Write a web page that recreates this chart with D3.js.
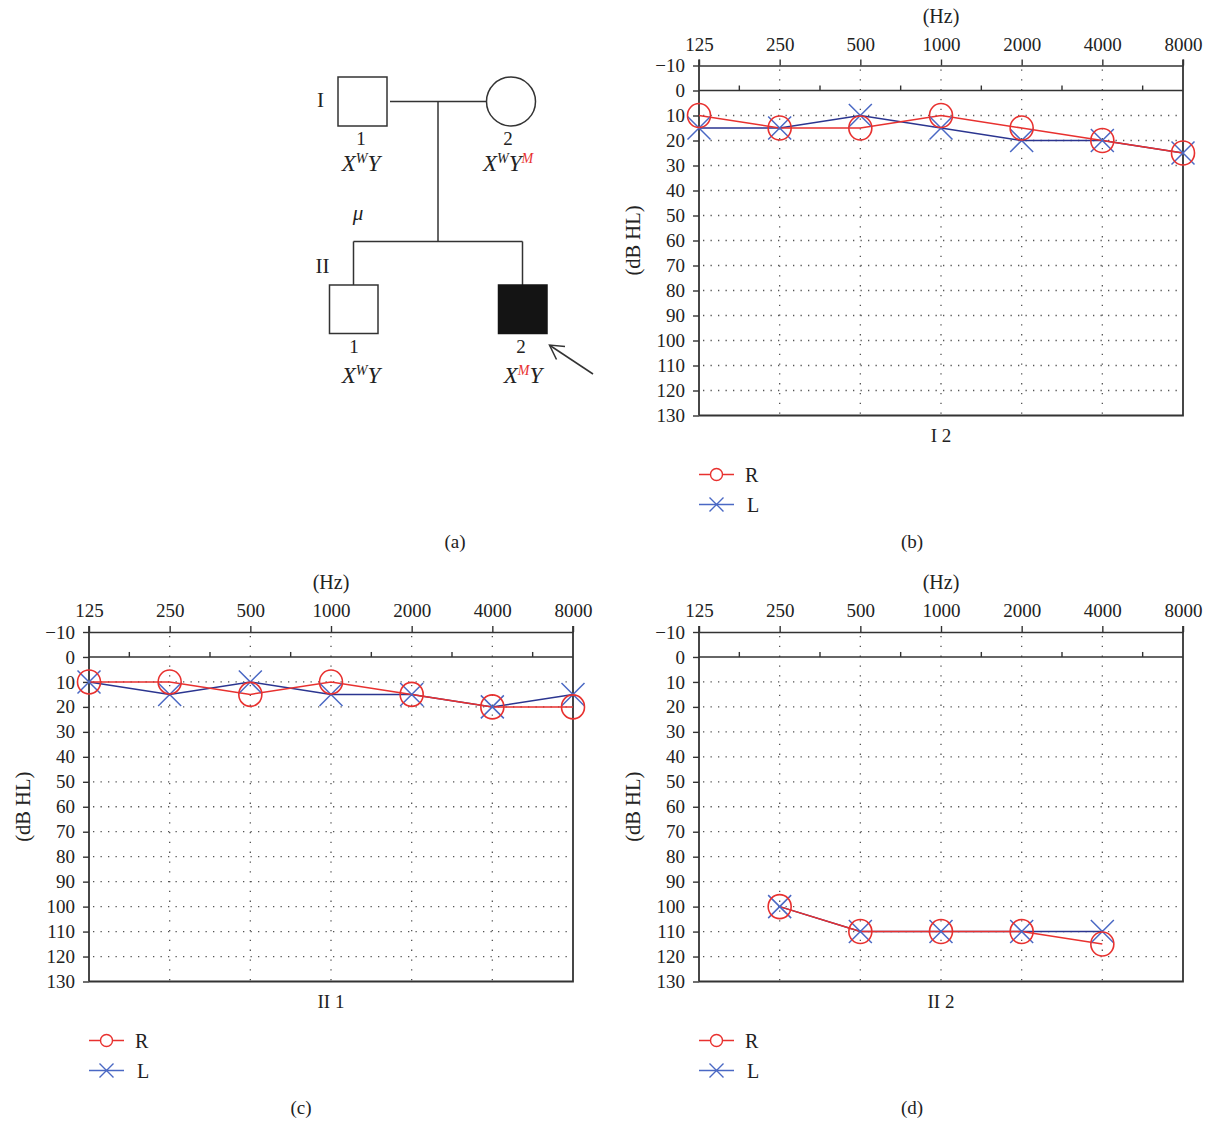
<!DOCTYPE html>
<html>
<head>
<meta charset="utf-8">
<script src="https://cdn.jsdelivr.net/npm/d3@7"></script>
<style>
  html, body { margin: 0; padding: 0; background: #fff; }
  svg { display: block; font-family: "Liberation Serif", "DejaVu Serif", serif; }
</style>
</head>
<body>
<svg id="fig" width="1212" height="1121"></svg>
<script>
// ---------------- data ----------------
const FREQS = [125, 250, 500, 1000, 2000, 4000, 8000];
const FREQ_LABELS = ["125", "250", "500", "1000", "2000", "4000", "8000"];
const DB_TICKS = [-10, 0, 10, 20, 30, 40, 50, 60, 70, 80, 90, 100, 110, 120, 130];

// Panel (b): I 2
const I2_FREQS = [125, 250, 500, 1000, 2000, 4000, 8000];
const I2_R = [10, 15, 15, 10, 15, 20, 25];
const I2_L = [15, 15, 10, 15, 20, 20, 25];
// Panel (c): II 1
const II1_FREQS = [125, 250, 500, 1000, 2000, 4000, 8000];
const II1_R = [10, 10, 15, 10, 15, 20, 20];
const II1_L = [10, 15, 10, 15, 15, 20, 15];
// Panel (d): II 2
const II2_FREQS = [250, 500, 1000, 2000, 4000];
const II2_R = [100, 110, 110, 110, 115];
const II2_L = [100, 110, 110, 110, 110];

const LEGEND = ["R", "L"];
const CAPTIONS = ["(a)", "(b)", "(c)", "(d)"];

// ---------------- styles ----------------
const RED = "#e8312f";
const NAVY = "#2b3590";
const XBLUE = "#4a68c4";
const AXIS = "#333";
const TEXT = "#222";
const FS = 19;

const svg = d3.select("#fig");

function drawX(sel, cx, cy, h, color, w) {
  sel.append("path")
    .attr("d", `M${cx - h},${cy - h}L${cx + h},${cy + h}M${cx - h},${cy + h}L${cx + h},${cy - h}`)
    .attr("stroke", color).attr("stroke-width", w).attr("fill", "none");
}

function audiogram(o) {
  const x = d3.scaleLog().base(2).domain([125, 8000]).range([o.x0, o.x1]);
  const y = d3.scaleLinear().domain([-10, 130]).range([o.yTop, o.yBot]);
  const g = svg.append("g");

  // horizontal dotted grid
  g.selectAll(null).data(DB_TICKS.filter(d => d > 0 && d < 130)).join("line")
    .attr("x1", o.x0 + 4).attr("x2", o.x1).attr("y1", d => y(d)).attr("y2", d => y(d))
    .attr("stroke", "#555").attr("stroke-width", 1.3).attr("stroke-dasharray", "1.3,6.2");
  // vertical dotted grid
  g.selectAll(null).data(FREQS.slice(1, -1)).join("line")
    .attr("x1", d => x(d)).attr("x2", d => x(d)).attr("y1", y(-10) + 4).attr("y2", y(130))
    .attr("stroke", "#555").attr("stroke-width", 1.3).attr("stroke-dasharray", "1.3,8.5");

  // 0 dB line
  g.append("line").attr("x1", o.x0).attr("x2", o.x1).attr("y1", y(0)).attr("y2", y(0))
    .attr("stroke", AXIS).attr("stroke-width", 1.6);
  // half-octave ticks on 0 line
  const mids = d3.pairs(FREQS).map(([a, b]) => Math.sqrt(a * b));
  g.selectAll(null).data(mids).join("line")
    .attr("x1", d => x(d)).attr("x2", d => x(d)).attr("y1", y(0)).attr("y2", y(0) - 5)
    .attr("stroke", AXIS).attr("stroke-width", 1.4);

  // top axis (frequency)
  const ax = d3.axisTop(x).tickValues(FREQS).tickFormat((d, i) => FREQ_LABELS[i])
    .tickSize(6).tickPadding(9).tickSizeOuter(0);
  const gx = g.append("g").attr("transform", `translate(0,${y(-10)})`).call(ax);
  gx.select(".domain").attr("stroke", AXIS).attr("stroke-width", 1.6);
  gx.selectAll(".tick line").attr("stroke", AXIS).attr("stroke-width", 1.4);
  gx.selectAll(".tick text").attr("font-size", FS).attr("fill", TEXT)
    .attr("font-family", "Liberation Serif, serif");

  // left axis (dB)
  const ay = d3.axisLeft(y).tickValues(DB_TICKS)
    .tickFormat(d => d < 0 ? "\u2212" + Math.abs(d) : String(d))
    .tickSize(6).tickPadding(8).tickSizeOuter(0);
  const gy = g.append("g").attr("transform", `translate(${o.x0},0)`).call(ay);
  gy.select(".domain").attr("stroke", AXIS).attr("stroke-width", 1.8)
    .attr("d", `M0,${y(-10) - 6}V${y(130)}`);
  gy.selectAll(".tick line").attr("stroke", AXIS).attr("stroke-width", 1.4);
  gy.selectAll(".tick text").attr("font-size", FS).attr("fill", TEXT)
    .attr("font-family", "Liberation Serif, serif");

  // right and bottom frame
  g.append("path").attr("d", `M${o.x1},${y(-10) - 6}V${y(130)}H${o.x0}`)
    .attr("fill", "none").attr("stroke", AXIS).attr("stroke-width", 1.8);

  // axis titles
  g.append("text").attr("x", (o.x0 + o.x1) / 2).attr("y", y(-10) - 43)
    .attr("text-anchor", "middle").attr("font-size", FS + 1).attr("fill", TEXT).text("(Hz)");
  g.append("text")
    .attr("transform", `translate(${o.x0 - 66},${(y(-10) + y(130)) / 2}) rotate(-90)`)
    .attr("text-anchor", "middle").attr("dominant-baseline", "central")
    .attr("font-size", FS + 1.5).attr("fill", TEXT).text("(dB HL)");
  g.append("text").attr("x", (o.x0 + o.x1) / 2).attr("y", y(130) + 26)
    .attr("text-anchor", "middle").attr("font-size", FS).attr("fill", TEXT).text(o.title);

  // series
  const line = d3.line().x(d => x(d[0])).y(d => y(d[1]));
  const Lpts = o.freqs.map((f, i) => [f, o.L[i]]);
  const Rpts = o.freqs.map((f, i) => [f, o.R[i]]);
  g.append("path").datum(Lpts).attr("d", line).attr("fill", "none")
    .attr("stroke", NAVY).attr("stroke-width", 1.5);
  g.append("path").datum(Rpts).attr("d", line).attr("fill", "none")
    .attr("stroke", RED).attr("stroke-width", 1.5);
  Lpts.forEach(p => drawX(g, x(p[0]), y(p[1]), 11.5, XBLUE, 1.5));
  g.selectAll(null).data(Rpts).join("ellipse")
    .attr("cx", d => x(d[0])).attr("cy", d => y(d[1])).attr("rx", 11.5).attr("ry", 12)
    .attr("fill", "none").attr("stroke", RED).attr("stroke-width", 1.6);

  // legend
  const lx = o.x0, ly = y(130) + 59;
  const lg = g.append("g");
  LEGEND.forEach((name, i) => {
    const yy = ly + i * 30;
    lg.append("line").attr("x1", lx).attr("x2", lx + 35).attr("y1", yy).attr("y2", yy)
      .attr("stroke", i === 0 ? RED : XBLUE).attr("stroke-width", 1.5);
    if (i === 0) {
      lg.append("circle").attr("cx", lx + 17.5).attr("cy", yy).attr("r", 6)
        .attr("fill", "#fff").attr("stroke", RED).attr("stroke-width", 1.4);
    } else {
      drawX(lg, lx + 17.5, yy, 7, XBLUE, 1.4);
    }
    lg.append("text").attr("x", lx + 46 + (i === 1 ? 2 : 0)).attr("y", yy)
      .attr("dominant-baseline", "central").attr("font-size", FS + 1).attr("fill", TEXT).text(name);
  });
}

audiogram({ x0: 699, x1: 1183, yTop: 65.5, yBot: 415.5, freqs: I2_FREQS, R: I2_R, L: I2_L, title: "I 2" });
audiogram({ x0: 89, x1: 573, yTop: 632, yBot: 981.5, freqs: II1_FREQS, R: II1_R, L: II1_L, title: "II 1" });
audiogram({ x0: 699, x1: 1183, yTop: 632, yBot: 981.5, freqs: II2_FREQS, R: II2_R, L: II2_L, title: "II 2" });

// captions
const capPos = [[455, 548], [912, 548], [301, 1114], [912, 1114]];
CAPTIONS.forEach((c, i) => {
  svg.append("text").attr("x", capPos[i][0]).attr("y", capPos[i][1])
    .attr("text-anchor", "middle").attr("font-size", FS).attr("fill", TEXT).text(c);
});

// ---------------- pedigree (a) ----------------
const ped = svg.append("g").attr("stroke", AXIS).attr("stroke-width", 1.5).attr("fill", "none");
// generation I
ped.append("rect").attr("x", 338).attr("y", 77).attr("width", 49).attr("height", 49).attr("fill", "#fff");
ped.append("circle").attr("cx", 511).attr("cy", 101.5).attr("r", 24.5).attr("fill", "#fff");
ped.append("line").attr("x1", 390).attr("x2", 486).attr("y1", 101.5).attr("y2", 101.5);
ped.append("line").attr("x1", 438).attr("x2", 438).attr("y1", 101.5).attr("y2", 241.5);
ped.append("line").attr("x1", 353.5).attr("x2", 522.5).attr("y1", 241.5).attr("y2", 241.5);
ped.append("line").attr("x1", 353.5).attr("x2", 353.5).attr("y1", 241.5).attr("y2", 285);
ped.append("line").attr("x1", 522.5).attr("x2", 522.5).attr("y1", 241.5).attr("y2", 285);
// generation II
ped.append("rect").attr("x", 329.5).attr("y", 285).attr("width", 48.5).attr("height", 48.5).attr("fill", "#fff");
ped.append("rect").attr("x", 498.5).attr("y", 285).attr("width", 48.5).attr("height", 48.5)
  .attr("fill", "#141414").attr("stroke", "#141414");
// proband arrow
ped.append("line").attr("x1", 593).attr("y1", 374).attr("x2", 550).attr("y2", 345.5);
ped.append("path").attr("d", "M565,346.5L549.5,345L556.5,359.5");

const T = svg.append("g").attr("fill", TEXT).attr("font-family", "Liberation Serif, serif");
function label(x, y, t, size) {
  T.append("text").attr("x", x).attr("y", y).attr("text-anchor", "middle")
    .attr("dominant-baseline", "central").attr("font-size", size || 19).text(t);
}
label(320.5, 100, "I", 21);
label(322.5, 266, "II", 21);
label(361, 138, "1", 19);
label(508, 138, "2", 19);
label(354, 346.5, "1", 19);
label(521, 346.5, "2", 19);
T.append("text").attr("x", 358).attr("y", 213).attr("text-anchor", "middle")
  .attr("dominant-baseline", "central").attr("font-style", "italic").attr("font-size", 21).text("\u03bc");

function genotype(cx, cy, parts) {
  const t = T.append("text").attr("x", cx).attr("y", cy).attr("text-anchor", "middle")
    .attr("font-style", "italic").attr("font-size", 23);
  parts.forEach(p => {
    const ts = t.append("tspan").text(p.t);
    if (p.sup) ts.attr("font-size", 14).attr("baseline-shift", "55%");
    if (p.red) ts.attr("fill", RED);
  });
}
genotype(361, 171, [{ t: "X" }, { t: "W", sup: true }, { t: "Y" }]);
genotype(508, 171, [{ t: "X" }, { t: "W", sup: true }, { t: "Y" }, { t: "M", sup: true, red: true }]);
genotype(361, 383, [{ t: "X" }, { t: "W", sup: true }, { t: "Y" }]);
genotype(523, 383, [{ t: "X" }, { t: "M", sup: true, red: true }, { t: "Y" }]);
</script>
</body>
</html>
